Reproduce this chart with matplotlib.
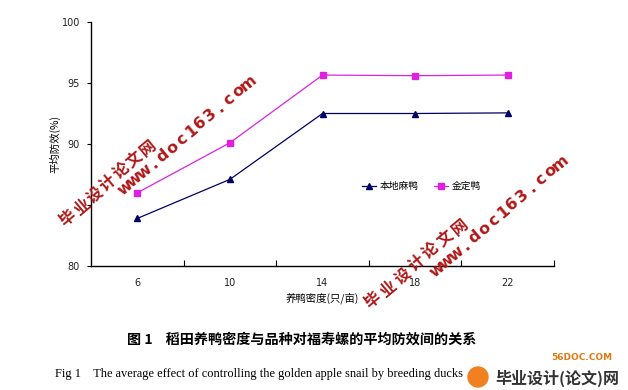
import matplotlib
matplotlib.use("Agg")
import matplotlib.pyplot as plt
from matplotlib.patches import Ellipse

plt.rcParams['font.family'] = ['Noto Sans CJK SC', 'DejaVu Sans']

categories = ['6', '10', '14', '18', '22']
local_duck = [83.9, 87.1, 92.5, 92.5, 92.55]
jinding_duck = [86.0, 90.1, 95.65, 95.6, 95.65]
series_names = ['本地麻鸭', '金定鸭']
yticks = [80, 85, 90, 95, 100]
ytick_labels = ['80', '', '90', '95', '100']

W, H = 628, 390
fig = plt.figure(figsize=(W / 100, H / 100), dpi=100)
ax = fig.add_axes([91 / W, 1 - 266 / H, 463 / W, 244 / H])

x = list(range(len(categories)))
ax.plot(x, local_duck, color='#000066', lw=0.9, marker='^', ms=4, label=series_names[0])
ax.plot(x, jinding_duck, color='#e020e0', lw=0.9, marker='s', ms=4.5, label=series_names[1])

ax.set_xlim(-0.5, len(categories) - 0.5)
ax.set_ylim(80, 100)
ax.set_yticks(yticks)
ax.set_yticklabels(ytick_labels, fontsize=7, family='DejaVu Sans', color='#222222')
ax.tick_params(axis='y', direction='out', length=3, width=0.8, pad=5)
ax.set_xticks([i + 0.5 for i in x])
ax.set_xticklabels([])
ax.tick_params(axis='x', direction='in', length=4, width=0.8)
for i, c in zip(x, categories):
    ax.text(i, -0.07, c, transform=ax.get_xaxis_transform(), ha='center', va='center',
            fontsize=7, family='DejaVu Sans', color='#222222')
for s in ['top', 'right']:
    ax.spines[s].set_visible(False)
for s in ['left', 'bottom']:
    ax.spines[s].set_linewidth(1.0)

ax.set_ylabel('平均防效(%)', fontsize=7.5)
ax.yaxis.set_label_coords(-0.066, 0.5)
ax.text(0.5, -0.13, '养鸭密度(只/亩)', transform=ax.transAxes, ha='center', va='center', fontsize=7.5)

ax.legend(loc='center', bbox_to_anchor=(0.713, 0.328), ncol=2, frameon=False,
          fontsize=7, handlelength=1.5, columnspacing=1.6, handletextpad=0.3)

fig.text(0.480, 1 - 340 / H, '图 1    稻田养鸭密度与品种对福寿螺的平均防效间的关系', ha='center', va='center',
         fontsize=10.2, fontweight='bold')
fig.text(55 / W, 1 - 374 / H, 'Fig 1    The average effect of controlling the golden apple snail by breeding ducks',
         ha='left', va='center', fontsize=8.9, family='Liberation Serif')

# watermarks (each character placed along a diagonal)
wm_color = '#b01818'


def place_chars(text, start, end, size, family):
    n = len(text)
    for k, ch in enumerate(text):
        t = k / (n - 1)
        px = start[0] + (end[0] - start[0]) * t
        py = start[1] + (end[1] - start[1]) * t
        fig.text(px / W, 1 - py / H, ch, rotation=40, ha='center', va='center',
                 fontsize=size, fontweight='bold', color=wm_color, family=family)


place_chars('毕业设计论文网', (68, 218), (148, 148), 11.5, ['Noto Sans CJK SC'])
place_chars('www.doc163.com', (125, 188), (248, 83), 11.5, ['DejaVu Sans'])
place_chars('毕业设计论文网', (373, 300), (460, 227), 11.5, ['Noto Sans CJK SC'])
place_chars('www.doc163.com', (437, 270), (560, 163), 11.5, ['DejaVu Sans'])

# logo
fig.patches.append(Ellipse((478 / W, 1 - 377 / H), 20 / W, 20 / H, transform=fig.transFigure,
                           color='#f08020', zorder=5))
fig.text(582 / W, 1 - 357 / H, '56DOC.COM', ha='center', va='center', fontsize=6.5,
         fontweight='bold', color='#e07a10', family='DejaVu Sans')
fig.text(557 / W, 1 - 378 / H, '毕业设计(论文)网', ha='center', va='center', fontsize=11.5,
         fontweight='bold', color='#333333')

fig.savefig('out.png', dpi=100)
